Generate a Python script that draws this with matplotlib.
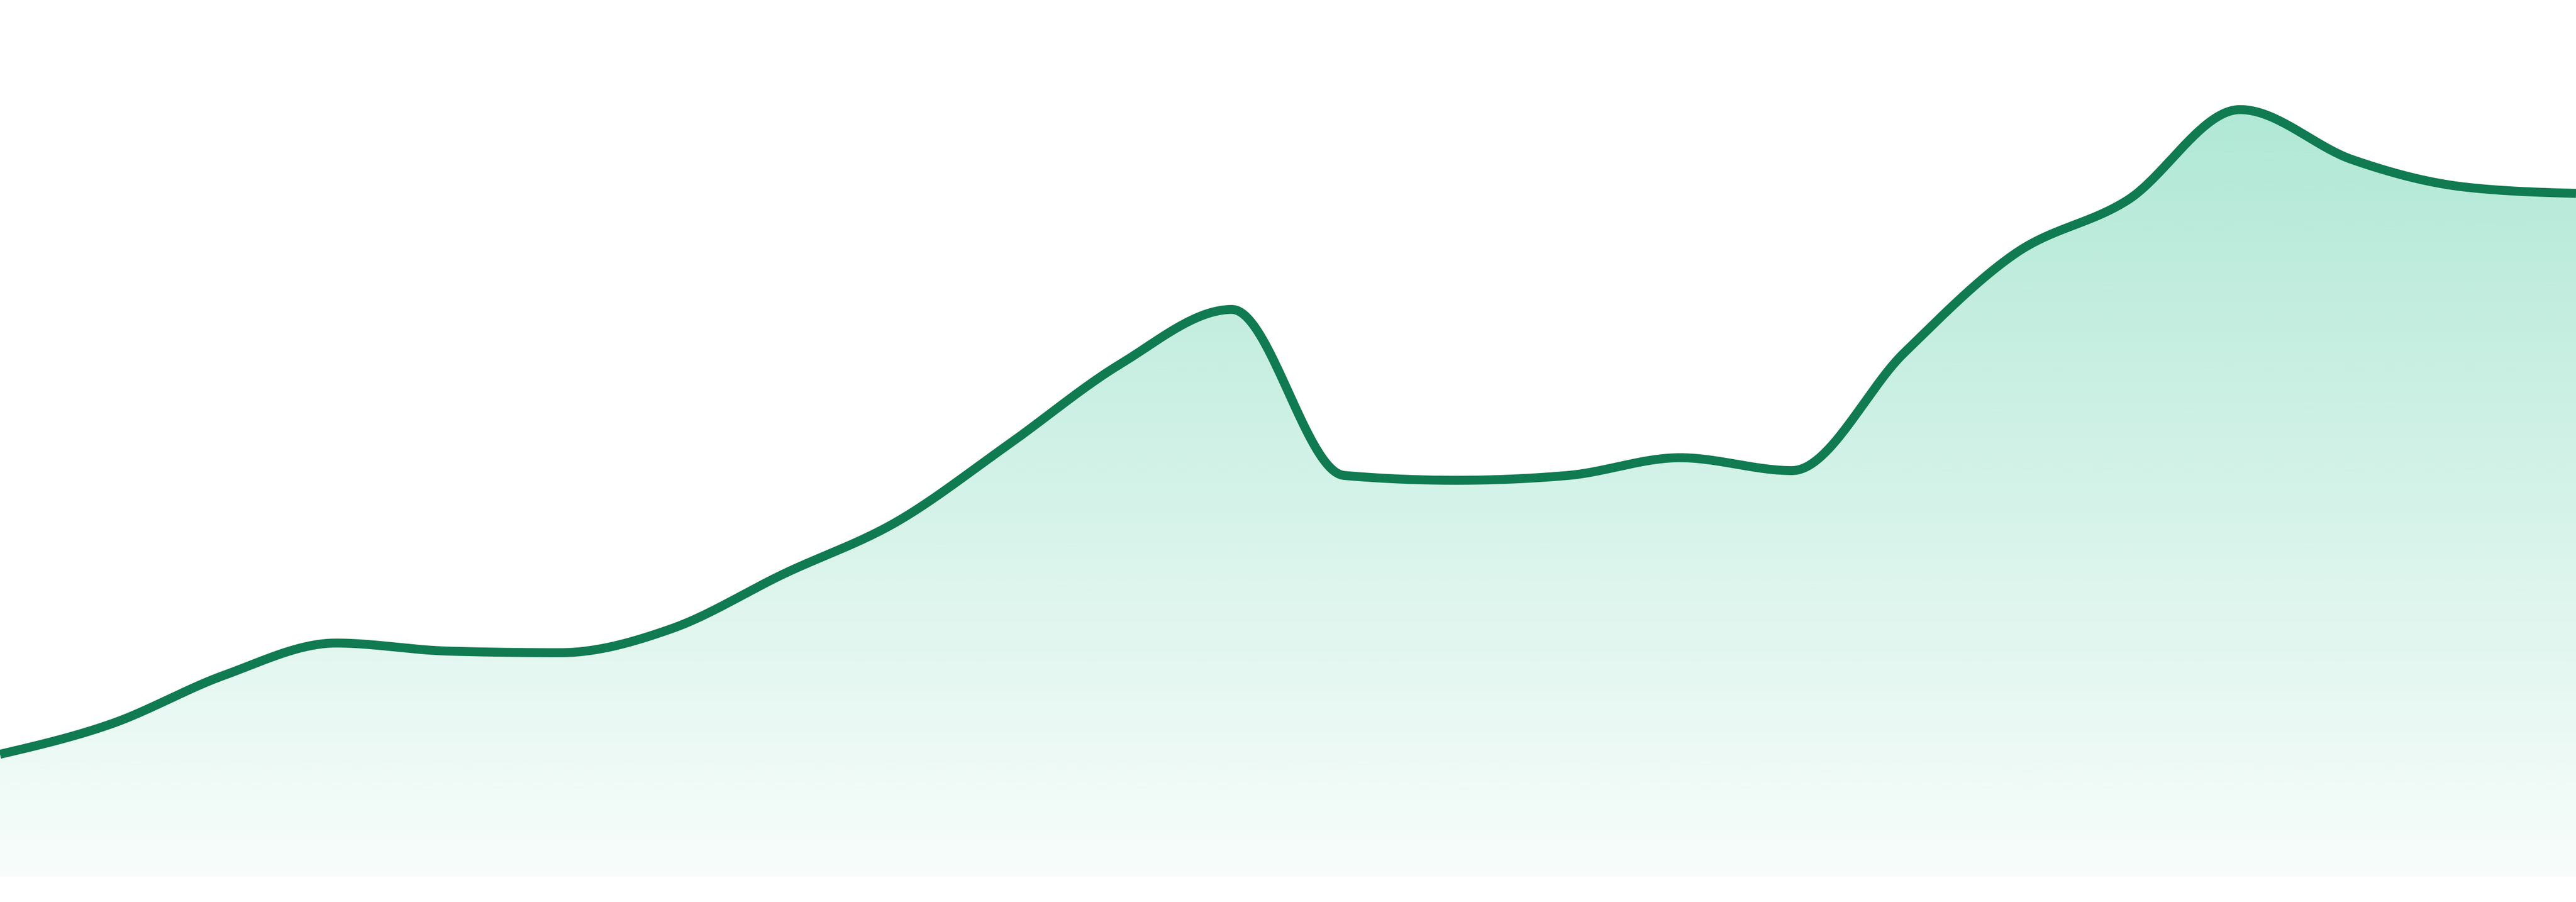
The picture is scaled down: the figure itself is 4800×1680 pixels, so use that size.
import numpy as np
import matplotlib
matplotlib.use("Agg")
import matplotlib.pyplot as plt
from matplotlib.colors import to_rgb

# data (24 evenly spaced samples)
steps = np.arange(24)
values = [76, 95, 125, 145, 140, 139, 154, 188, 220, 268, 318, 352,
          249, 246, 249, 260, 252, 325, 387, 420, 476, 445, 428, 424]

line_color = "#107a50"
fill_color = "#10b981"


def monotone_curve(x, y, n=40):
    # d3-style monotoneX (Steffen) smoothing, only for drawing the line
    x = np.asarray(x, float)
    y = np.asarray(y, float)
    h = np.diff(x)
    s = np.diff(y) / h
    t = np.zeros(len(x))
    for i in range(1, len(x) - 1):
        p = (s[i - 1] * h[i] + s[i] * h[i - 1]) / (h[i - 1] + h[i])
        t[i] = (np.sign(s[i - 1]) + np.sign(s[i])) * min(abs(s[i - 1]), abs(s[i]), 0.5 * abs(p))
    t[0] = (3 * s[0] - t[1]) / 2
    t[-1] = (3 * s[-1] - t[-2]) / 2
    xs, ys = [], []
    for i in range(len(x) - 1):
        u = np.linspace(0, 1, n, endpoint=False)
        h00 = 2 * u**3 - 3 * u**2 + 1
        h10 = u**3 - 2 * u**2 + u
        h01 = -2 * u**3 + 3 * u**2
        h11 = u**3 - u**2
        xs.append(x[i] + u * h[i])
        ys.append(h00 * y[i] + h10 * h[i] * t[i] + h01 * y[i + 1] + h11 * h[i] * t[i + 1])
    xs.append([x[-1]])
    ys.append([y[-1]])
    return np.concatenate(xs), np.concatenate(ys)


cx, cy = monotone_curve(steps, values)

fig = plt.figure(figsize=(16, 5.6), dpi=300)
ax = fig.add_axes([0, 0.028, 1, 0.972])
ax.set_xlim(steps[0], steps[-1])
ax.set_ylim(0, 544)
ax.axis("off")

# gradient fill under the line
poly = ax.fill_between(cx, cy, 0, color="none", lw=0)
top = max(values)
grad = np.zeros((256, 1, 4))
grad[:, 0, :3] = to_rgb(fill_color)
grad[:, 0, 3] = np.linspace(0.33, 0.03, 256)
img = ax.imshow(grad, aspect="auto", extent=[steps[0], steps[-1], 0, top],
                origin="upper", zorder=1, interpolation="bilinear")
img.set_clip_path(poly.get_paths()[0], transform=ax.transData)

ax.plot(cx, cy, color=line_color, lw=4, zorder=2, solid_capstyle="butt")

fig.savefig("out.png", dpi=300, facecolor="white")
